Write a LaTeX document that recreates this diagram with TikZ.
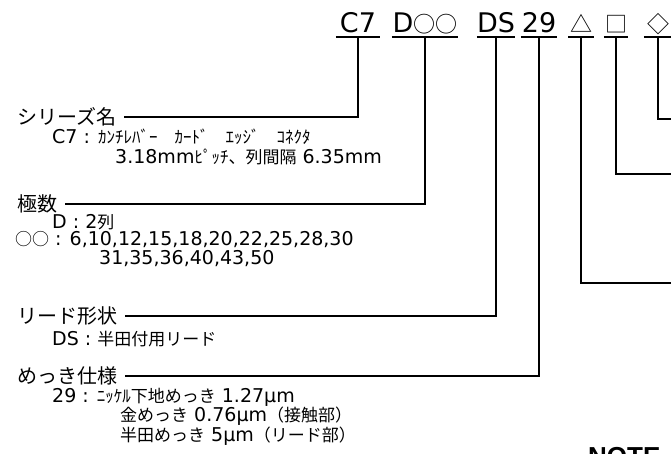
\documentclass[tikz,border=0pt]{standalone}
\usepackage{fontspec}
\setmainfont{DejaVu Sans}
\newfontfamily\jpfont{Noto Sans CJK JP}
\newfontfamily\notefont{Liberation Sans}
\newcommand{\jp}[1]{{\jpfont\fontsize{17}{19}\selectfont #1}}
\newcommand{\hk}[1]{{\jpfont\fontsize{17}{19}\selectfont #1}}
\newcommand{\sym}[1]{{\jpfont\fontsize{22}{24}\selectfont #1}}
\begin{document}
\begin{tikzpicture}[x=1pt,y=-1pt,
  code/.style={anchor=south, inner xsep=0pt, inner ysep=4pt, text depth=0pt, font=\fontsize{27}{30}\selectfont},
  head/.style={anchor=west, inner sep=0pt, outer xsep=8pt, font=\jpfont\fontsize{20}{22}\selectfont},
  body/.style={anchor=west, inner sep=0pt, font=\fontsize{19}{21}\selectfont},
  lead/.style={line width=1.1pt}]
\useasboundingbox (0,0) rectangle (671,454);
% part number
\node[code, minimum width=44pt] (c7) at (358,37) {C7};
\node[code, minimum width=66pt] (dd) at (425,37) {D\sym{○○}};
\node[code, minimum width=38pt] (ds) at (496,37) {DS};
\node[code, minimum width=36pt] (nn) at (539,37) {29};
\node[code, minimum width=25pt] (tri) at (581,37) {\sym{△}};
\node[code, minimum width=24pt] (sq) at (616,37) {\sym{□}};
\node[code, minimum width=28pt] (dia) at (658,37) {\sym{◇}};
\foreach \n in {c7,dd,ds,nn,tri,sq,dia}
  \draw[lead] (\n.south west) -- (\n.south east);
% headings
\node[head] (series) at (9,117) {シリーズ名};
\node[head] (poles) at (9,204) {極数};
\node[head] (shape) at (9,316) {リード形状};
\node[head] (plating) at (9,376) {めっき仕様};
% details
\node[body] (c7txt) at (52,137) {C7 : \hk{ｶﾝﾁﾚﾊﾞｰ　ｶｰﾄﾞ　ｴｯｼﾞ　ｺﾈｸﾀ}};
\node[body] (pitch) at (115,157) {3.18mm\hk{ﾋﾟｯﾁ}\jp{、列間隔} 6.35mm};
\node[body] (rows) at (52,222) {D : 2\jp{列}};
\node[body] (ways) at (15,240) {\jp{○○} : 6,10,12,15,18,20,22,25,28,30};
\node[body] (ways2) at (99,259) {31,35,36,40,43,50};
\node[body] (dstxt) at (52,339) {DS : \jp{半田付用リード}};
\node[body] (ni) at (52,397) {29 : \hk{ﾆｯｹﾙ}\jp{下地めっき} 1.27μm};
\node[body] (au) at (120,416) {\jp{金めっき} 0.76μm\jp{（接触部）}};
\node[body] (sn) at (120,436) {\jp{半田めっき} 5μm\jp{（リード部）}};
\node[anchor=base west, inner sep=0pt, font=\notefont\bfseries\fontsize{26}{30}\selectfont] (note) at (588,465) {NOTE};
% leaders
\coordinate (r1) at (671,119);
\coordinate (r2) at (671,174);
\coordinate (r3) at (671,283);
\draw[lead] (c7.south) |- (series.east);
\draw[lead] (dd.south) |- (poles.east);
\draw[lead] (ds.south) |- (shape.east);
\draw[lead] (nn.south) |- (plating.east);
\draw[lead] (tri.south) |- (r3);
\draw[lead] (sq.south) |- (r2);
\draw[lead] (dia.south) |- (r1);
\end{tikzpicture}
\end{document}
